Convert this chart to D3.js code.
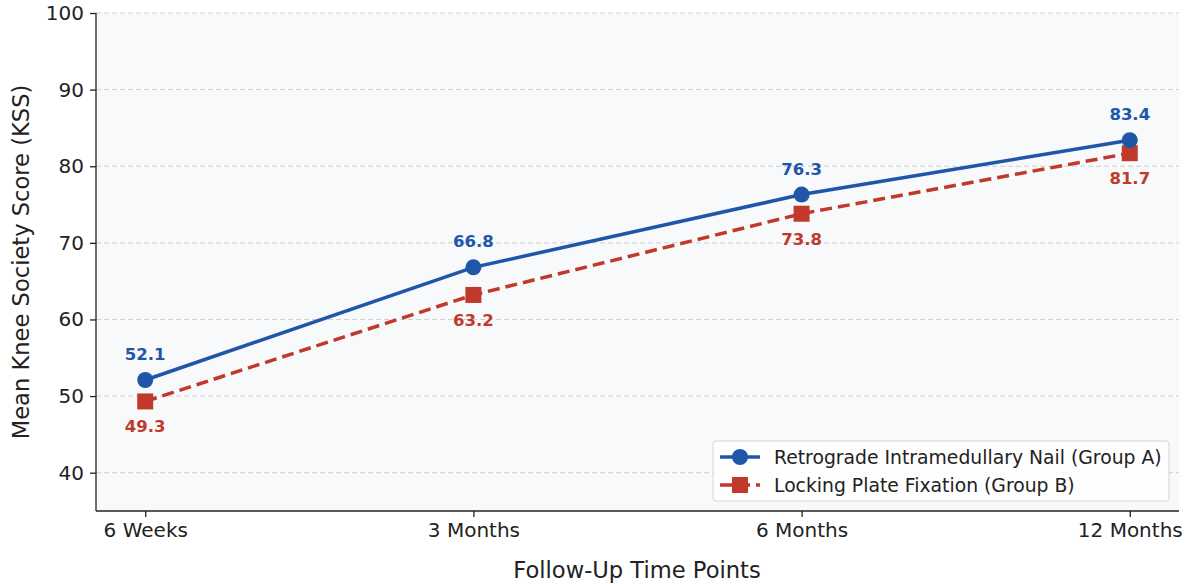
<!DOCTYPE html>
<html><head><meta charset="utf-8">
<script src="https://cdn.jsdelivr.net/npm/d3@7"></script>
<style>body{margin:0;background:#fff;font-family:"DejaVu Sans",sans-serif;}</style>
</head><body><svg id="c" width="1192" height="584"></svg>
<script>
const categories = ["6 Weeks","3 Months","6 Months","12 Months"];
const groupA = [52.1, 66.8, 76.3, 83.4];
const groupB = [49.3, 63.2, 73.8, 81.7];
const seriesNames = ["Retrograde Intramedullary Nail (Group A)","Locking Plate Fixation (Group B)"];
const yTicks = [40,50,60,70,80,90,100];

const blue = "#1f56a8", red = "#c0392b";
const svg = d3.select("#c");
const L = 96, R = 1179, T = 13, B = 511;
const x = d3.scaleLinear().domain([-0.15, 3.15]).range([L, R]);
const y = d3.scaleLinear().domain([35, 100]).range([B, T]);

svg.append("rect").attr("x",L).attr("y",T).attr("width",R-L).attr("height",B-T).attr("fill","#f7f9fb");
// grid
svg.append("g").selectAll("line").data(yTicks).join("line")
  .attr("x1",L).attr("x2",R).attr("y1",d=>y(d)).attr("y2",d=>y(d))
  .attr("stroke","#cfcfcf").attr("stroke-width",1).attr("stroke-dasharray","5,3");

const yAxis = svg.append("g").attr("transform",`translate(${L},0)`)
  .call(d3.axisLeft(y).tickValues(yTicks).tickSize(6).tickPadding(6));
const xAxis = svg.append("g").attr("transform",`translate(0,${B})`)
  .call(d3.axisBottom(x).tickValues([0,1,2,3]).tickFormat(i=>categories[i]).tickSize(6).tickPadding(6));
[yAxis,xAxis].forEach(a=>{
  a.selectAll("text").attr("font-size",20).attr("fill","#222").attr("font-family","DejaVu Sans");
  a.selectAll("line").attr("stroke","#222").attr("stroke-width",1.3);
  a.select(".domain").attr("stroke","#222").attr("stroke-width",1.3);
});
yAxis.select(".domain").attr("d",`M0,${T}V${B}`);
xAxis.select(".domain").attr("d",`M${L},0H${R}`);

svg.append("text").attr("x",637).attr("y",578).attr("text-anchor","middle")
  .attr("font-size",22.6).attr("fill","#222").text("Follow-Up Time Points");
svg.append("text").attr("transform",`translate(29,${(T+B)/2}) rotate(-90)`).attr("text-anchor","middle")
  .attr("font-size",22.6).attr("fill","#222").text("Mean Knee Society Score (KSS)");

const line = d3.line().x((d,i)=>x(i)).y(d=>y(d));
svg.append("path").datum(groupB).attr("d",line).attr("fill","none").attr("stroke",red)
  .attr("stroke-width",3.5).attr("stroke-dasharray","12,6");
svg.append("path").datum(groupA).attr("d",line).attr("fill","none").attr("stroke",blue)
  .attr("stroke-width",3.5);
svg.append("g").selectAll("rect").data(groupB).join("rect")
  .attr("x",(d,i)=>x(i)-8).attr("y",d=>y(d)-8).attr("width",16).attr("height",16).attr("fill",red);
svg.append("g").selectAll("circle").data(groupA).join("circle")
  .attr("cx",(d,i)=>x(i)).attr("cy",d=>y(d)).attr("r",8).attr("fill",blue);

svg.append("g").selectAll("text").data(groupA).join("text")
  .attr("x",(d,i)=>x(i)).attr("y",d=>y(d)-20).attr("text-anchor","middle")
  .attr("font-size",16.5).attr("font-weight","bold").attr("fill",blue).text(d=>d.toFixed(1));
svg.append("g").selectAll("text").data(groupB).join("text")
  .attr("x",(d,i)=>x(i)).attr("y",d=>y(d)+31).attr("text-anchor","middle")
  .attr("font-size",16.5).attr("font-weight","bold").attr("fill",red).text(d=>d.toFixed(1));

// legend
const lg = svg.append("g");
lg.append("rect").attr("x",713).attr("y",441).attr("width",456).attr("height",60).attr("rx",3)
  .attr("fill","#fff").attr("fill-opacity",0.85).attr("stroke","#d5d5d5");
[[blue,"circle",null],[red,"rect","12,6"]].forEach((s,k)=>{
  const cy = 457 + k*28;
  lg.append("line").attr("x1",720).attr("x2",760).attr("y1",cy).attr("y2",cy)
    .attr("stroke",s[0]).attr("stroke-width",3.5).attr("stroke-dasharray",s[2]);
  if(s[1]==="circle") lg.append("circle").attr("cx",740).attr("cy",cy).attr("r",8).attr("fill",s[0]);
  else lg.append("rect").attr("x",732).attr("y",cy-8).attr("width",16).attr("height",16).attr("fill",s[0]);
  lg.append("text").attr("x",774).attr("y",cy+6.5).attr("font-size",18.8).attr("fill","#222").text(seriesNames[k]);
});
</script></body></html>
